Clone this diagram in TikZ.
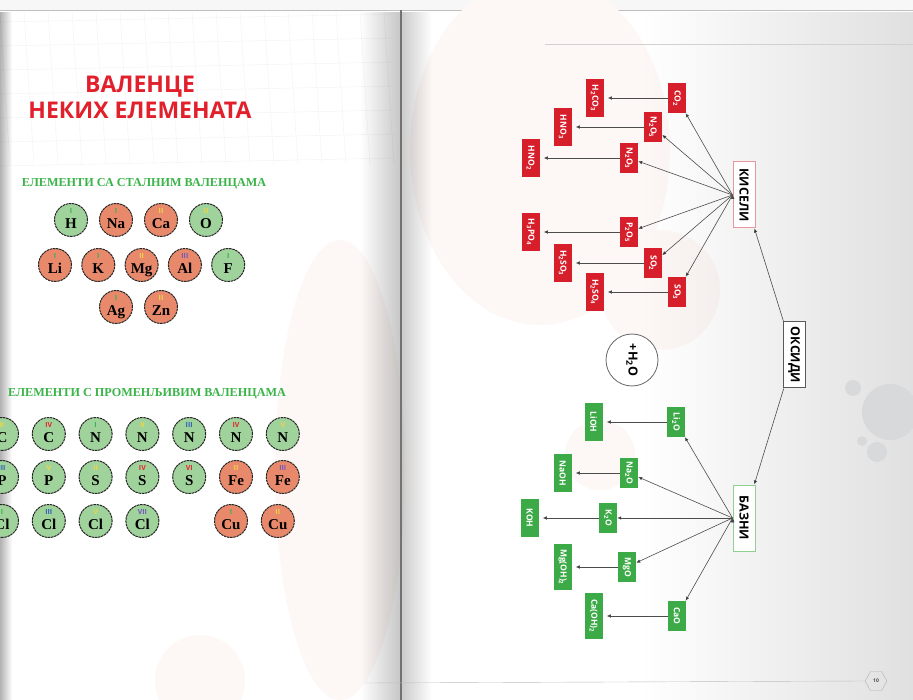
\documentclass[tikz,border=0pt]{standalone}
\usepackage{fontspec}
\usepackage{graphicx}
\setmainfont{Liberation Serif}
\setsansfont{Open Sans}
\usetikzlibrary{positioning}
\usetikzlibrary{arrows.meta}
\usetikzlibrary{shapes.geometric}
\usetikzlibrary{fadings}

\definecolor{acidred}{HTML}{D71F2B}
\definecolor{basegreen}{HTML}{3DAA48}
\definecolor{acidframe}{HTML}{E8979C}
\definecolor{baseframe}{HTML}{8FCF90}
\definecolor{titlered}{HTML}{E2202C}
\definecolor{titlegreen}{HTML}{3BB44A}
\definecolor{elgreen}{HTML}{A0D39B}
\definecolor{elorange}{HTML}{E9896C}
\definecolor{valI}{HTML}{35B348}
\definecolor{valII}{HTML}{EED545}
\definecolor{valIII}{HTML}{2F5CB8}
\definecolor{valIV}{HTML}{E3262E}
\definecolor{valVII}{HTML}{7257BE}
\definecolor{blush}{HTML}{FDF8F6}
\definecolor{splat}{HTML}{D8D9DB}

\newcommand{\vtxt}[1]{\rotatebox{-90}{#1}}
\newcommand{\sub}[1]{\textsubscript{#1}}

\begin{document}
\begin{tikzpicture}[ x = 1pt, y = -1pt
                   , >={Latex[width=3.5pt, length=4pt]}
                   , font = \sffamily
                   ]

  \useasboundingbox (0,0) rectangle (913,700);

  %%
  %% Paper
  %%
  \fill[white] (0,0) rectangle (913,700);
  \fill[black!3] (0,0) rectangle (913,10);
  \draw[black!25] (0,10) -- (913,10);
  % Faint blobs behind both pages.
  \fill[blush] (540,150) ellipse[x radius=130pt, y radius=175pt];
  \fill[blush] (660,290) circle[radius=60pt];
  \fill[blush] (600,455) circle[radius=35pt];
  \fill[blush] (340,470) ellipse[x radius=65pt, y radius=230pt];
  \fill[blush] (200,680) circle[radius=45pt];
  % Grid at the top of the left page.
  \foreach \gx in {0,24,...,384}
    \draw[black!5] (\gx,12) -- (\gx+10,165);
  \foreach \gy in {22,46,...,166}
    \draw[black!5] (0,\gy) -- (395,\gy-8);
  % Gutter shadows and spine.
  \fill[black, opacity=0.3, path fading=east] (0,11) rectangle (12,700);
  \fill[black, opacity=0.22, path fading=west] (360,11) rectangle (400,700);
  \fill[black, opacity=0.2, path fading=east] (402,11) rectangle (432,700);
  \fill[black, opacity=0.12, path fading=west] (640,11) rectangle (913,700);
  \draw[black!55, line width=1.5pt] (401,10) -- (401,700);
  % Header line and ink splat on the right page.
  \draw[black!18] (545,44) -- (913,44);
  \fill[splat] (890,412) circle[radius=28pt];
  \fill[splat] (853,388) circle[radius=8pt];
  \fill[splat] (862,441) circle[radius=5pt];
  \fill[splat] (877,452) circle[radius=10pt];

  %%
  %% Left page: valences
  %%
  \tikzset{ elem/.style = { circle, draw = black!85, line width = 1pt
                          , dash pattern = on 2.5pt off 0.7pt
                          , minimum size = 33pt, inner sep = 0pt
                          , font = \rmfamily\bfseries\fontsize{15}{15}\selectfont
                          , text height = 17pt, text depth = 0pt }
          , nonmetal/.style = {elem, fill = elgreen}
          , metal/.style = {elem, fill = elorange}
          , valence/.style 2 args = { label = {[text = #1, inner sep = 0.5pt,
                                                label distance = -11pt,
                                                text height = 5pt, text depth = 0pt,
                                                font = \sffamily\bfseries\fontsize{7}{7}\selectfont]90:#2} }
          , head/.style = { font = \rmfamily\bfseries\fontsize{12.2}{13}\selectfont
                          , text = titlegreen }
          }

  \node (title) [ font = \sffamily\bfseries\fontsize{23}{26}\selectfont
                , text = titlered, align = center ] at (140,97)
        {ВАЛЕНЦЕ\\НЕКИХ ЕЛЕМЕНАТА};

  \node (fixhead) [head] at (144,184) {ЕЛЕМЕНТИ СА СТАЛНИМ ВАЛЕНЦАМА};

  \node (h) [nonmetal, valence = {valI}{I}] at (71,220) {H};
  \node (na) [metal, valence = {valI}{I}, right = 11pt of h] {Na};
  \node (ca) [metal, valence = {valII}{II}, right = 11pt of na] {Ca};
  \node (o) [nonmetal, valence = {valII}{II}, right = 11pt of ca] {O};

  \node (li) [metal, valence = {valI}{I}] at (55,265) {Li};
  \node (k) [metal, valence = {valI}{I}, right = 9.3pt of li] {K};
  \node (mg) [metal, valence = {valII}{II}, right = 9.3pt of k] {Mg};
  \node (al) [metal, valence = {valVII}{III}, right = 9.3pt of mg] {Al};
  \node (f) [nonmetal, valence = {valI}{I}, right = 9.3pt of al] {F};

  \node (ag) [metal, valence = {valI}{I}] at (116,307) {Ag};
  \node (zn) [metal, valence = {valII}{II}, right = 11pt of ag] {Zn};

  \node (varhead) [head] at (147,394) {ЕЛЕМЕНТИ С ПРОМЕНЉИВИМ ВАЛЕНЦАМА};

  \node (c2) [nonmetal, valence = {valII}{II}] at (2,434) {C};
  \node (c4) [nonmetal, valence = {valIV}{IV}, right = 12.8pt of c2] {C};
  \node (n1) [nonmetal, valence = {valI}{I}, right = 12.8pt of c4] {N};
  \node (n2) [nonmetal, valence = {valII}{II}, right = 12.8pt of n1] {N};
  \node (n3) [nonmetal, valence = {valIII}{III}, right = 12.8pt of n2] {N};
  \node (n4) [nonmetal, valence = {valIV}{IV}, right = 12.8pt of n3] {N};
  \node (n5) [nonmetal, valence = {valII}{V}, right = 12.8pt of n4] {N};

  \node (p3) [nonmetal, valence = {valIII}{III}] at (2,477) {P};
  \node (p5) [nonmetal, valence = {valII}{V}, right = 12.8pt of p3] {P};
  \node (s2) [nonmetal, valence = {valII}{II}, right = 12.8pt of p5] {S};
  \node (s4) [nonmetal, valence = {valIV}{IV}, right = 12.8pt of s2] {S};
  \node (s6) [nonmetal, valence = {valIV}{VI}, right = 12.8pt of s4] {S};
  \node (fe2) [metal, valence = {valII}{II}, right = 12.8pt of s6] {Fe};
  \node (fe3) [metal, valence = {valVII}{III}, right = 12.8pt of fe2] {Fe};

  \node (cl1) [nonmetal, valence = {valI}{I}] at (2,521) {Cl};
  \node (cl3) [nonmetal, valence = {valIII}{III}, right = 12.8pt of cl1] {Cl};
  \node (cl5) [nonmetal, valence = {valII}{V}, right = 12.8pt of cl3] {Cl};
  \node (cl7) [nonmetal, valence = {valVII}{VII}, right = 12.8pt of cl5] {Cl};
  \node (cu1) [metal, valence = {valI}{I}] at (231,521) {Cu};
  \node (cu2) [metal, valence = {valII}{II}, right = 12.8pt of cu1] {Cu};

  %%
  %% Right page: oxides
  %%
  \tikzset{ acidox/.style = { rectangle, fill = acidred, text = white
                            , minimum width = 18pt, minimum height = 30pt, inner sep = 1pt
                            , font = \sffamily\bfseries\fontsize{8.5}{9}\selectfont }
          , acidprod/.style = {acidox, minimum height = 38pt}
          , baseox/.style = {acidox, fill = basegreen}
          , baseprod/.style = {baseox, minimum height = 38pt}
          , grp/.style = { rectangle, fill = white, line width = 1pt
                         , minimum width = 22pt, minimum height = 66pt, inner sep = 1pt
                         , font = \sffamily\bfseries\fontsize{12.5}{13}\selectfont }
          , water/.style = { circle, draw = black!60, fill = white, line width = 0.8pt
                           , minimum size = 52pt
                           , font = \sffamily\bfseries\fontsize{12.5}{13}\selectfont }
          , link/.style = { ->, draw = black!70, line width = 0.6pt }
          }

  \node (oks) [grp, draw = black!65] at (794,355) {\vtxt{ОКСИДИ}};
  \node (kis) [grp, draw = acidframe] at (744,195) {\vtxt{КИСЕЛИ}};
  \node (baz) [grp, draw = baseframe] at (744,518) {\vtxt{БАЗНИ}};
  \node (water) [water] at (632,360) {\vtxt{+H\sub{2}O}};

  % Acidic oxides and their acids.
  \node (co2) [acidox] at (677,98) {\vtxt{CO\sub{2}}};
  \node (n2o5) [acidox] at (653,127) {\vtxt{N\sub{2}O\sub{5}}};
  \node (n2o3) [acidox] at (629,158) {\vtxt{N\sub{2}O\sub{3}}};
  \node (p2o5) [acidox] at (629,232) {\vtxt{P\sub{2}O\sub{5}}};
  \node (so2) [acidox] at (653,263) {\vtxt{SO\sub{2}}};
  \node (so3) [acidox] at (677,292) {\vtxt{SO\sub{3}}};

  \node (h2co3) [acidprod, left = 64pt of co2] {\vtxt{H\sub{2}CO\sub{3}}};
  \node (hno3) [acidprod, left = 72pt of n2o5] {\vtxt{HNO\sub{3}}};
  \node (hno2) [acidprod, left = 80pt of n2o3] {\vtxt{HNO\sub{2}}};
  \node (h3po4) [acidprod, left = 80pt of p2o5] {\vtxt{H\sub{3}PO\sub{4}}};
  \node (h2so3) [acidprod, left = 72pt of so2] {\vtxt{H\sub{2}SO\sub{3}}};
  \node (h2so4) [acidprod, left = 64pt of so3] {\vtxt{H\sub{2}SO\sub{4}}};

  % Basic oxides and their hydroxides.
  \node (li2o) [baseox] at (676,422) {\vtxt{Li\sub{2}O}};
  \node (na2o) [baseox] at (629,473) {\vtxt{Na\sub{2}O}};
  \node (k2o) [baseox] at (608,518) {\vtxt{K\sub{2}O}};
  \node (mgo) [baseox] at (627,567) {\vtxt{MgO}};
  \node (cao) [baseox] at (677,616) {\vtxt{CaO}};

  \node (lioh) [baseprod, left = 64pt of li2o] {\vtxt{LiOH}};
  \node (naoh) [baseprod, left = 48pt of na2o] {\vtxt{NaOH}};
  \node (koh) [baseprod, left = 60pt of k2o] {\vtxt{KOH}};
  \node (mgoh2) [baseprod, minimum height = 46pt, left = 46pt of mgo] {\vtxt{Mg(OH)\sub{2}}};
  \node (caoh2) [baseprod, minimum height = 46pt, left = 65pt of cao] {\vtxt{Ca(OH)\sub{2}}};

  %%
  %% Arrows
  %%
  \draw[link] (oks) edge (kis);
  \draw[link] (oks) edge (baz);
  % Fan out of the two groups.
  \draw[link] (kis.west) edge (co2);
  \draw[link] (kis.west) edge (n2o5);
  \draw[link] (kis.west) edge (n2o3);
  \draw[link] (kis.west) edge (p2o5);
  \draw[link] (kis.west) edge (so2);
  \draw[link] (kis.west) edge (so3);
  \draw[link] (baz.west) edge (li2o);
  \draw[link] (baz.west) edge (na2o);
  \draw[link] (baz.west) edge (k2o);
  \draw[link] (baz.west) edge (mgo);
  \draw[link] (baz.west) edge (cao);
  % Horizontal lines.
  \draw[link, shorten > = 4pt] (co2) edge (h2co3);
  \draw[link, shorten > = 4pt] (n2o5) edge (hno3);
  \draw[link, shorten > = 4pt] (n2o3) edge (hno2);
  \draw[link, shorten > = 4pt] (p2o5) edge (h3po4);
  \draw[link, shorten > = 4pt] (so2) edge (h2so3);
  \draw[link, shorten > = 4pt] (so3) edge (h2so4);
  \draw[link, shorten > = 4pt] (li2o) edge (lioh);
  \draw[link, shorten > = 4pt] (na2o) edge (naoh);
  \draw[link, shorten > = 4pt] (k2o) edge (koh);
  \draw[link, shorten > = 4pt] (mgo) edge (mgoh2);
  \draw[link, shorten > = 4pt] (cao) edge (caoh2);

  %%
  %% Footer
  %%
  \node (pgno) [ regular polygon, regular polygon sides = 6, draw = black!30
               , minimum size = 22pt, inner sep = 0pt, text = black!70
               , font = \sffamily\bfseries\fontsize{5}{5}\selectfont ] at (876,681) {10};
  \draw[black!25] (365,683) -- (pgno.west);
\end{tikzpicture}
\end{document}
